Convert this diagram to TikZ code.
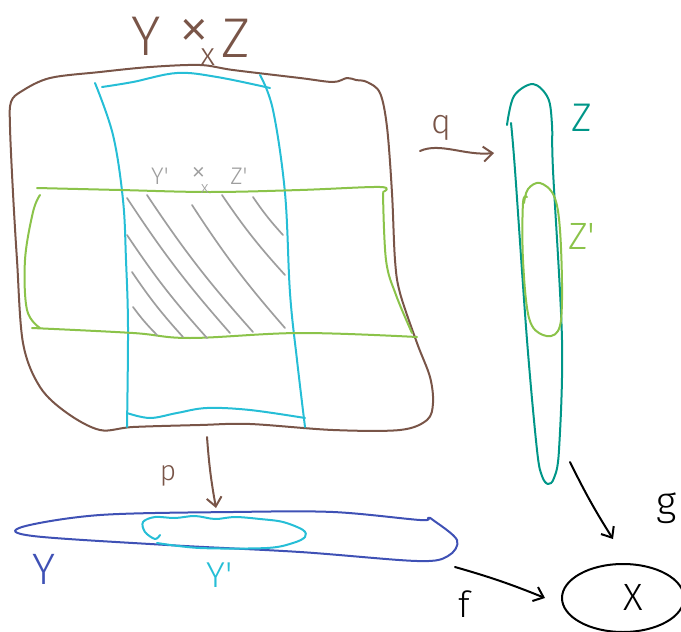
\documentclass[tikz,border=0pt]{standalone}
\usepackage{fontspec}
\setmainfont{Fira Sans}
\newfontfamily\hand{Fira Sans Light}
\usetikzlibrary{arrows.meta,shapes.geometric}
\definecolor{cbrown}{RGB}{121,85,72}
\definecolor{ccyan}{RGB}{38,190,214}
\definecolor{cgreen}{RGB}{139,195,74}
\definecolor{cgray}{RGB}{158,158,158}
\definecolor{cteal}{RGB}{0,150,136}
\definecolor{cblue}{RGB}{63,81,181}
\tikzset{
  ink/.style={line width=2pt, line cap=round, line join=round},
  hatchline/.style={ink, cgray, line width=1.7pt},
  lbl/.style={inner sep=0pt, font=\hand},
  harrow/.style={ink, -{Straight Barb[length=9pt,width=15pt,line width=2pt]}},
}
\begin{document}
\begin{tikzpicture}[x=1pt,y=-1pt]
\useasboundingbox (0,0) rectangle (681,632);

% ---- Y x_X Z big region
\draw[ink, cbrown] plot[smooth cycle, tension=0.55] coordinates {
 (11,102) (22,91) (50,78) (100,72) (150,67) (200,65) (233,70) (300,78)
 (333,82) (347,78) (356,80) (367,82) (380,93) (387,127) (392,193) (395,260)
 (400,293) (417,343) (430,377) (433,403) (427,420) (400,430) (333,430)
 (250,424) (200,425) (133,427) (100,430) (67,413) (40,387) (23,343)
 (17,260) (13,193) (10,127)};

% ---- cyan strip Y' x Z
\draw[ink, ccyan] plot[smooth, tension=0.6] coordinates {(95,83) (113,135) (123,200) (126,260) (128,327) (127,427)};
\draw[ink, ccyan] plot[smooth, tension=0.6] coordinates {(260,75) (273,110) (285,193) (290,293) (297,360) (305,427)};
\draw[ink, ccyan] plot[smooth, tension=0.6] coordinates {(102,87) (133,82) (177,73) (217,77) (270,88)};
\draw[ink, ccyan] plot[smooth, tension=0.6] coordinates {(127,413) (150,418) (177,413) (207,408) (250,410) (305,418)};

% ---- green strip Y x Z'
\draw[ink, cgreen] plot[smooth, tension=0.6] coordinates {(37,188) (120,190) (210,192) (300,190) (380,187) (383,192)};
\draw[ink, cgreen] plot[smooth, tension=0.6] coordinates {(383,193) (386,260) (396,295) (412,333)};
\draw[ink, cgreen] plot[smooth, tension=0.6] coordinates {(32,328) (133,333) (190,338) (300,333) (417,337)};
\draw[ink, cgreen] plot[smooth, tension=0.6] coordinates {(40,195) (33,212) (25,260) (27,310) (40,328)};

% ---- hatching of Y' x Z'
\draw[hatchline] (127,198) to[bend right=4] (230,333);
\draw[hatchline] (147,195) to[bend right=4] (253,332);
\draw[hatchline] (192,205) to[bend right=4] (285,328);
\draw[hatchline] (222,195) to[bend right=4] (285,275);
\draw[hatchline] (253,197) to[bend right=4] (283,235);
\draw[hatchline] (127,235) to[bend right=4] (207,338);
\draw[hatchline] (132,272) to[bend right=4] (183,337);
\draw[hatchline] (133,307) to[bend right=4] (157,335);

% ---- labels in the square
\node[lbl, cbrown, font=\hand\fontsize{56}{56}\selectfont] (tY) at (146,36) {Y};
\node[lbl, cbrown] (tx) at (197,42)
  {{\fontsize{64}{64}\selectfont\raisebox{6pt}{×}}\kern-10pt{\fontsize{32}{32}\selectfont\raisebox{-10pt}{x}}};
\node[lbl, cbrown, font=\hand\fontsize{56}{56}\selectfont] (tZ) at (236,38) {Z};

\node[lbl, cgray, font=\hand\fontsize{24}{24}\selectfont] (sY) at (160,176) {Y'};
\node[lbl, cgray] (sx) at (200,180)
  {{\fontsize{30}{30}\selectfont\raisebox{5pt}{×}}\kern-5pt{\fontsize{17}{17}\selectfont\raisebox{-7pt}{x}}};
\node[lbl, cgray, font=\hand\fontsize{24}{24}\selectfont] (sZ) at (239,176) {Z'};

% ---- Z and Z'
\draw[ink, cteal] plot[smooth, tension=0.55] coordinates {
 (507,125) (514,96) (533,84) (548,98) (552,125) (553,170) (562,340) (559,450)
 (554,478) (548,484) (542,476) (537,450) (527,340) (515,170) (511,123)};
\draw[ink, cgreen] plot[smooth, tension=0.6] coordinates {
 (527,197) (523,203) (523,260) (529,318) (543,335) (558,331) (562,300)
 (560,230) (554,196) (540,183) (528,189) (524,203)};
\node[lbl, cteal, font=\hand\fontsize{40}{40}\selectfont] (lZ) at (582,118) {Z};
\node[lbl, cgreen, font=\hand\fontsize{38}{38}\selectfont] (lZp) at (582,236) {Z'};

% ---- Y and Y'
\draw[ink, cblue] plot[smooth cycle, tension=0.55] coordinates {
 (22,527) (100,515) (233,512) (333,512) (420,520) (428,518) (433,520)
 (457,540) (448,556) (417,561) (300,552) (167,545) (33,536)};
\draw[ink, ccyan] plot[smooth, tension=0.55] coordinates {
 (160,535) (155,539) (145,532) (143,522) (155,517) (175,518) (195,516) (215,519)
 (235,517) (260,519) (283,522) (303,530) (305,537) (293,543) (267,548) (200,548) (157,543)};
\node[lbl, cblue, font=\hand\fontsize{44}{44}\selectfont] (lY) at (44,569) {Y};
\node[lbl, ccyan, font=\hand\fontsize{36}{36}\selectfont] (lYp) at (220,575) {Y'};

% ---- X
\node[ink, draw=black, ellipse, minimum width=122pt, minimum height=68pt, inner sep=0pt] (X) at (623,598) {};
\node[lbl, black, font=\hand\fontsize{38}{38}\selectfont] (lX) at (633,597) {X};

% ---- arrows
\coordinate (qs) at (420,151);
\coordinate (qe) at (494,153);
\draw[harrow, cbrown] (qs) .. controls (440,142) and (465,156) .. (qe);
\node[lbl, cbrown, font=\hand\fontsize{34}{34}\selectfont] (lq) at (441,128) {q};

\coordinate (ps) at (207,437);
\coordinate (pe) at (216,508);
\draw[harrow, cbrown] (ps) to[bend right=3] (pe);
\node[lbl, cbrown, font=\hand\fontsize{28}{28}\selectfont] (lp) at (168,476) {p};

\coordinate (fs) at (455,567);
\coordinate (fe) at (545,598);
\draw[harrow, black] (fs) to[bend left=3] (fe);
\node[lbl, black, font=\hand\fontsize{36}{36}\selectfont] (lf) at (464,604) {f};

\coordinate (gs) at (570,462);
\coordinate (ge) at (613,539);
\draw[harrow, black] (gs) to[bend right=3] (ge);
\node[lbl, black, font=\hand\fontsize{40}{40}\selectfont] (lg) at (667,508) {g};
\end{tikzpicture}
\end{document}
